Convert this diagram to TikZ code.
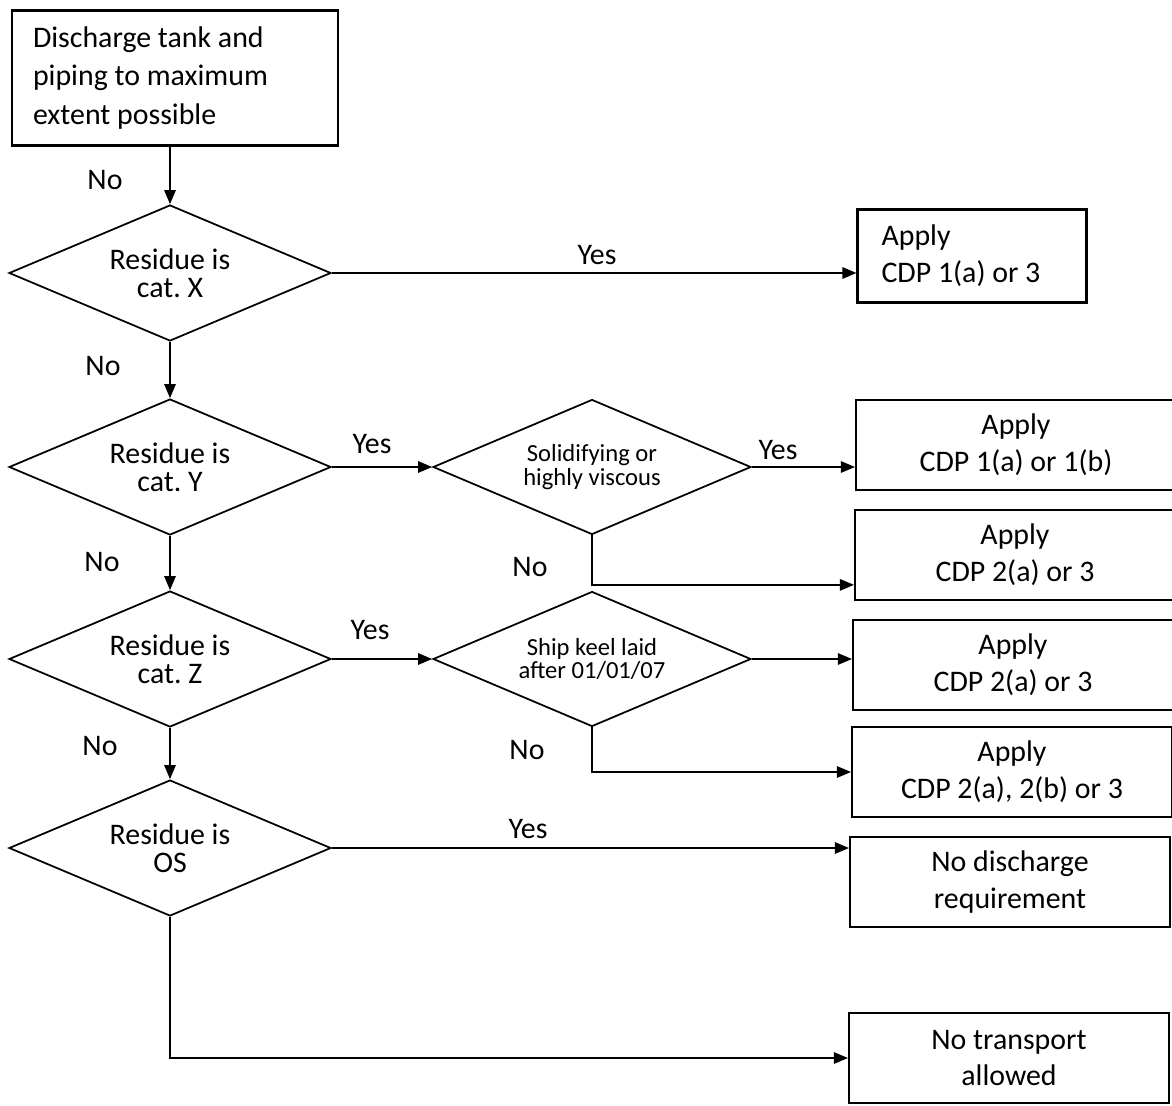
\documentclass[tikz,border=0pt]{standalone}
\usepackage{fontspec}
\setmainfont{Carlito}
\usetikzlibrary{shapes.geometric, arrows.meta}
\frenchspacing

\begin{document}
\begin{tikzpicture}[x=0.02cm, y=-0.02cm, font=\fontsize{17}{21}\selectfont,
	box/.style={draw, line width=1.2pt, minimum width=6.4cm, minimum height=1.8cm, align=center, inner sep=2pt},
	test/.style={draw, diamond, aspect=2.4, line width=1pt, minimum width=6.44cm, minimum height=2.72cm, inner sep=1pt, align=center, font=\fontsize{17}{16}\selectfont},
	subtest/.style={test, minimum width=6.36cm, minimum height=2.7cm, font=\fontsize{14}{13.5}\selectfont},
	lbl/.style={inner sep=0pt},
	arr/.style={-{Triangle[length=8pt,width=6.5pt]}, line width=0.9pt}]
			\useasboundingbox (0,0) rectangle (1172,1105);
			\node[draw, line width=1.2pt, align=flush left, text width=5.68cm, inner xsep=0.42cm, minimum height=2.7cm, font=\fontsize{17}{22}\selectfont] at(175,78) (start) {Discharge tank and\\piping to maximum\\extent possible};
			\node[test] at(170,273) (d1) {Residue is\\cat. X};
			\node[test] at(170,467) (d2) {Residue is\\cat. Y};
			\node[test] at(170,659) (d4) {Residue is\\cat. Z};
			\node[test] at(170,848) (d6) {Residue is\\OS};
			\node[subtest] at(592,467) (d3) {Solidifying or\\highly viscous};
			\node[subtest] at(592,659) (d5) {Ship keel laid\\after 01/01/07};
			
			\node[draw, line width=1.2pt, align=flush left, text width=3.62cm, inner xsep=0.48cm, minimum height=1.86cm] at(972,256) (bX) {Apply\\CDP 1(a) or 3};
			\node[box] at(1016,445) (bY1) {Apply\\CDP 1(a) or 1(b)};
			\node[box] at(1015,555) (bY2) {Apply\\CDP 2(a) or 3};
			\node[box] at(1013,665) (bZ1) {Apply\\CDP 2(a) or 3};
			\node[box] at(1012,772) (bZ2) {Apply\\CDP 2(a), 2(b) or 3};
			\node[box] at(1010,882) (bOS) {No discharge\\requirement};
			\node[box] at(1009,1058) (bNT) {No transport\\allowed};
			
			\node[lbl] at(105,180) (no1) {No};
			\node[lbl] at(103,366) (no2) {No};
			\node[lbl] at(102,562) (no4) {No};
			\node[lbl] at(100,746) (no6) {No};
			\node[lbl] at(530,567) (no3) {No};
			\node[lbl] at(527,750) (no5) {No};
			\node[lbl] at(597,255) (yes1) {Yes};
			\node[lbl] at(372,444) (yes2) {Yes};
			\node[lbl] at(778,450) (yes3) {Yes};
			\node[lbl] at(370,630) (yes4) {Yes};
			\node[lbl] at(528,829) (yes6) {Yes};
			
			\draw[arr] (start.south -| d1.north) -- (d1.north);
			\draw[arr] (d1.east) -- (d1.east -| bX.west);
			\draw[arr] (d1.south) -- (d2.north);
			\draw[arr] (d2.east) -- (d3.west);
			\draw[arr] (d3.east) -- (d3.east -| bY1.west);
			\draw[arr] (d3.south) |- ([yshift=-17pt]bY2.west);
			\draw[arr] (d2.south) -- (d4.north);
			\draw[arr] (d4.east) -- (d5.west);
			\draw[arr] (d5.east) -- (d5.east -| bZ1.west);
			\draw[arr] (d5.south) |- (bZ2.west);
			\draw[arr] (d4.south) -- (d6.north);
			\draw[arr] (d6.east) -- (d6.east -| bOS.west);
			\draw[arr] (d6.south) |- (bNT.west);
\end{tikzpicture}
\end{document}
